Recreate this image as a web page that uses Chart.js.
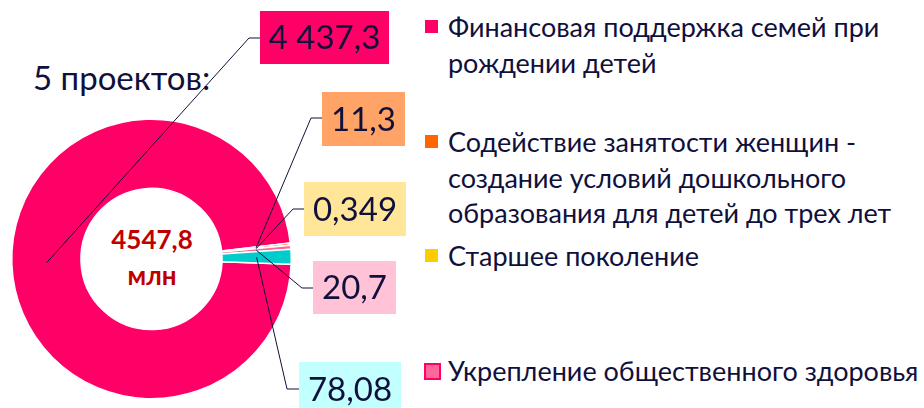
<!DOCTYPE html>
<html lang="ru">
<head>
<meta charset="UTF-8">
<title>5 проектов</title>
<script src="https://cdn.jsdelivr.net/npm/chart.js"></script>
<style>
  html, body { margin: 0; padding: 0; background: #fff; }
  #wrap { position: relative; width: 924px; height: 408px; overflow: hidden; font-family: Lato, "Open Sans", sans-serif; color: #10103c; }
  #title { position: absolute; left: 33px; top: 57px; font-size: 33px; line-height: 40px; }
  #center { position: absolute; left: 82px; top: 221px; width: 140px; text-align: center; color: #c00000; font-weight: bold; font-size: 26px; line-height: 36px; }
  #legend { position: absolute; left: 0; top: 0; }
  .item { position: absolute; left: 448px; font-size: 27px; line-height: 35.5px; white-space: nowrap; }
  .box { position: absolute; left: -23px; top: 11px; width: 13px; height: 13px; }
  canvas { position: absolute; left: 0; top: 0; }
</style>
</head>
<body>
<div id="wrap">
  <div id="title">5 проектов:</div>
  <div id="center">4547,8<br>млн</div>
  <div id="legend"></div>
  <canvas id="chart" width="924" height="408"></canvas>
</div>
<script>
// данные (порядок по часовой стрелке, как на диаграмме)
const categories = [
  ["Финансовая поддержка семей при", "рождении детей"],
  ["Содействие занятости женщин -", "создание условий дошкольного", "образования для детей до трех лет"],
  ["Старшее поколение"],
  ["Укрепление общественного здоровья"],
  ["Спорт - норма жизни"]
];
const values = [4437.3, 11.3, 0.349, 20.7, 78.08];
const sliceColors = ["#ff0066", "#ff6600", "#ffcc00", "#ff6699", "#00cccc"];
const labelFill = ["#ff0066", "#ffa366", "#ffe699", "#ffc2d6", "#c2ffff"];
const legendShown = [true, true, true, true, false];

// раскладка подписей (левый верх коробки, размер, излом выноски)
const labelBoxes = [
  { x: 260, y: 11, w: 129, h: 53, ex: 249, ey: 38 },
  { x: 322, y: 92, w: 83, h: 54, ex: 311, ey: 118 },
  { x: 304, y: 182, w: 102, h: 54, ex: 293, ey: 209 },
  { x: 313, y: 261, w: 83, h: 53, ex: 302, ey: 288 },
  { x: 299, y: 362, w: 102, h: 54, ex: 287, ey: 389 }
];
const legendTops = [9, 124, 238, 353, 300];

function fmt(v) {
  const parts = String(v).split(".");
  const intPart = parts[0].replace(/\B(?=(\d{3})+(?!\d))/g, " ");
  return parts[1] ? intPart + "," + parts[1] : intPart;
}

// легенда
const legend = document.getElementById("legend");
categories.forEach((lines, i) => {
  const item = document.createElement("div");
  item.className = "item";
  item.style.top = legendTops[i] + "px";
  if (!legendShown[i]) item.style.visibility = "hidden";
  const box = document.createElement("div");
  box.className = "box";
  box.style.background = sliceColors[i];
  if (i === 3) {
    box.style.left = "-24px";
    box.style.top = "10px";
    box.style.border = "2px solid #ff0066";
  }
  item.appendChild(box);
  lines.forEach((line, j) => {
    if (j > 0) item.appendChild(document.createElement("br"));
    item.appendChild(document.createTextNode(line));
  });
  legend.appendChild(item);
});

const leaderLabels = {
  id: "leaderLabels",
  afterDatasetsDraw(chart) {
    const ctx = chart.ctx;
    const meta = chart.getDatasetMeta(0);
    ctx.save();
    meta.data.forEach((arc, i) => {
      const p = arc.tooltipPosition();
      const b = labelBoxes[i];
      ctx.strokeStyle = "#10103c";
      ctx.lineWidth = 1;
      ctx.beginPath();
      ctx.moveTo(p.x, p.y);
      ctx.lineTo(b.ex, b.ey);
      ctx.lineTo(b.x, b.ey);
      ctx.stroke();
      ctx.fillStyle = labelFill[i];
      ctx.fillRect(b.x, b.y, b.w, b.h);
      ctx.fillStyle = "#10103c";
      ctx.font = "33px Lato";
      ctx.textAlign = "center";
      ctx.textBaseline = "middle";
      ctx.fillText(fmt(values[i]), b.x + b.w / 2, b.y + b.h / 2 + 1);
    });
    ctx.restore();
  }
};

new Chart(document.getElementById("chart"), {
  type: "doughnut",
  data: {
    labels: categories,
    datasets: [{
      data: values,
      backgroundColor: sliceColors,
      borderColor: "#ffffff",
      borderWidth: 1.5
    }]
  },
  options: {
    responsive: false,
    animation: false,
    cutout: "50.5%",
    rotation: 92.2,
    layout: { padding: { left: 11, top: 118, right: 632, bottom: 8 } },
    plugins: {
      legend: { display: false },
      tooltip: { enabled: false }
    }
  },
  plugins: [leaderLabels]
});
</script>
</body>
</html>
